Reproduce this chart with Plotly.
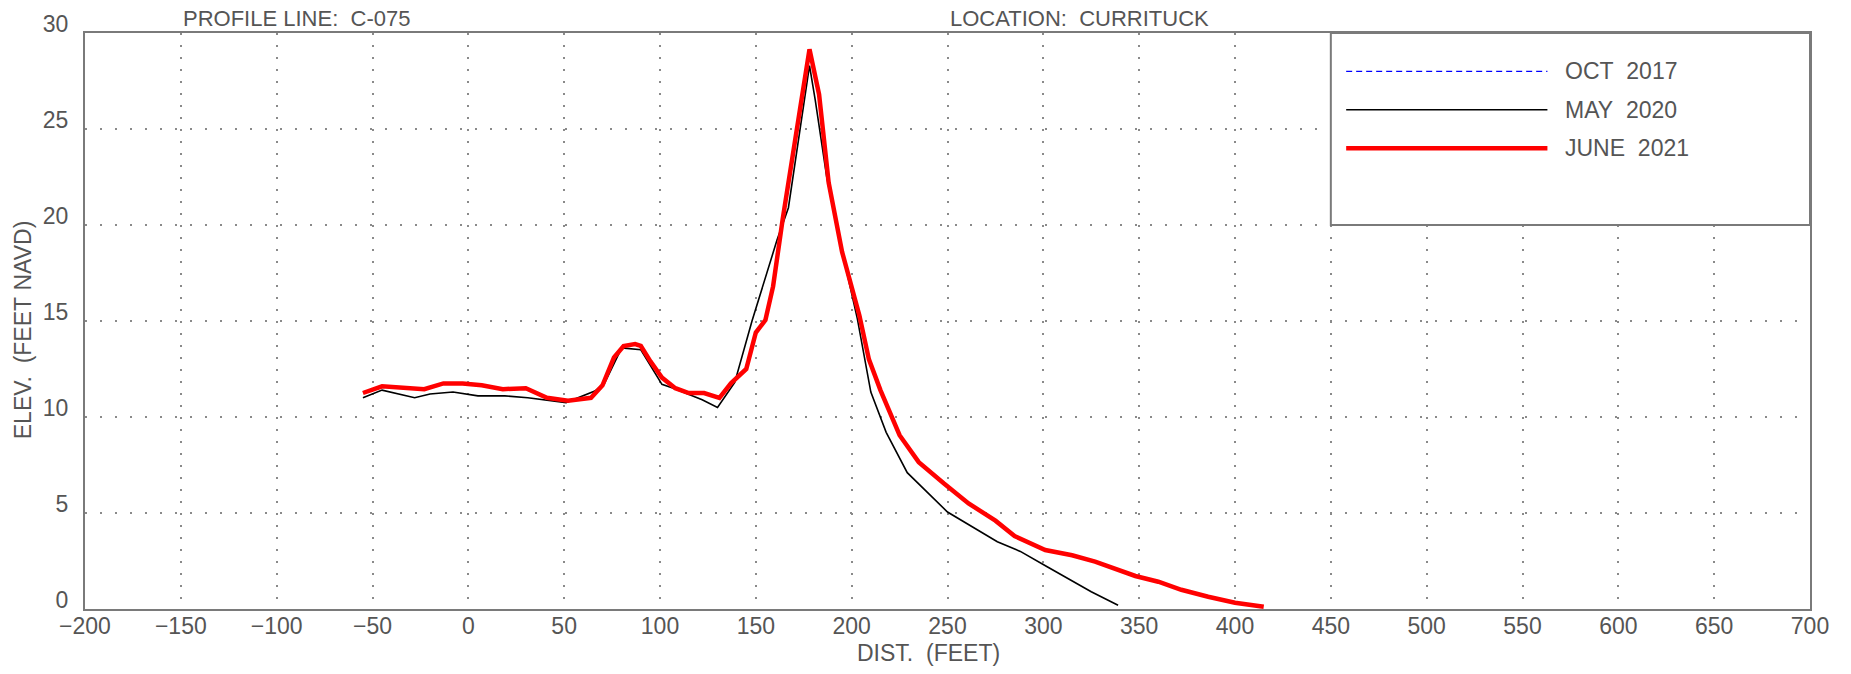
import plotly.graph_objects as go

# ---- data ----
may2020_x = [-55, -45, -28, -20, -8, 5, 19, 31, 51, 66, 71, 80, 90, 101, 107, 122, 130, 139, 148, 161, 167, 178,
             181, 187, 196, 203, 210, 218, 229, 250, 276, 288, 302, 325, 339]
may2020_y = [11.0, 11.4, 11.0, 11.2, 11.3, 11.1, 11.1, 11.0, 10.75, 11.35, 11.75, 13.6, 13.5, 11.7, 11.5, 10.9,
             10.5, 11.8, 15.0, 19.2, 20.9, 28.3, 26.5, 22.5, 18.2, 15.1, 11.3, 9.2, 7.1, 5.05, 3.5, 3.0, 2.2, 0.9, 0.2]

june2021_x = [-55, -45, -23, -13, -3, 7, 18, 30, 41, 52, 64, 70, 76, 81, 87, 90, 95, 101, 108, 115, 123, 131, 137,
              145, 150, 155, 159, 164, 173, 178, 183, 188, 195, 204, 209, 215, 225, 235, 248, 261, 275, 285, 301,
              315, 327, 348, 360, 372, 386, 400, 415]
june2021_y = [11.25, 11.6, 11.45, 11.75, 11.75, 11.65, 11.45, 11.5, 11.0, 10.85, 11.0, 11.65, 13.1, 13.7, 13.8,
              13.7, 12.9, 12.05, 11.5, 11.25, 11.25, 11.0, 11.75, 12.5, 14.4, 15.05, 16.8, 20.3, 26.0, 29.15, 26.8,
              22.2, 18.6, 15.3, 13.0, 11.4, 9.05, 7.65, 6.55, 5.5, 4.6, 3.8, 3.07, 2.8, 2.47, 1.72, 1.42, 1.0, 0.64,
              0.33, 0.12]

oct2017_x = []
oct2017_y = []

x_ticks = list(range(-200, 701, 50))
y_ticks = list(range(0, 31, 5))

series_names = ["OCT  2017", "MAY  2020", "JUNE  2021"]
series_colors = ["#0000ff", "#000000", "#ff0000"]
series_widths = [1.3, 1.6, 4.5]
series_dash = ["6px,4px", "solid", "solid"]

FONT = "Liberation Sans, Arial, sans-serif"
TXT = "#555555"
GRID = "#8a8a8a"

fig = go.Figure()
for (xs, ys), name, col, w, d in zip([(oct2017_x, oct2017_y), (may2020_x, may2020_y), (june2021_x, june2021_y)],
                                     series_names, series_colors, series_widths, series_dash):
    fig.add_trace(go.Scatter(x=xs, y=ys, mode="lines", name=name, showlegend=False,
                             line=dict(color=col, width=w, dash=d)))

# manual legend box (CAD style)
fig.add_shape(type="rect", xref="x", yref="y", x0=450, x1=700, y0=20, y1=30,
              line=dict(color="#7a7a7a", width=2), fillcolor="white", layer="above")
for i, (name, col, w, d) in enumerate(zip(series_names, series_colors, series_widths, series_dash)):
    yy = 28 - 2 * i
    fig.add_shape(type="line", xref="x", yref="y", x0=458, x1=563, y0=yy, y1=yy,
                  line=dict(color=col, width=w, dash=d), layer="above")
    fig.add_annotation(x=571, y=yy, xref="x", yref="y", text=name.replace(" ", "\u00a0"),
                       showarrow=False, xanchor="left", yanchor="middle",
                       font=dict(family=FONT, size=23, color=TXT))

fig.add_annotation(x=-150, y=1, xref="x", yref="paper", text="PROFILE\u00a0LINE:\u00a0\u00a0C-075",
                   showarrow=False, xanchor="left", yanchor="middle", yshift=15,
                   font=dict(family=FONT, size=22, color=TXT))
fig.add_annotation(x=250, y=1, xref="x", yref="paper", text="LOCATION:\u00a0\u00a0CURRITUCK",
                   showarrow=False, xanchor="left", yanchor="middle", yshift=15,
                   font=dict(family=FONT, size=22, color=TXT))

# axis titles
fig.add_annotation(x=0, y=0.484, xref="paper", yref="paper", text="ELEV.\u00a0\u00a0(FEET\u00a0NAVD)",
                   showarrow=False, xanchor="center", yanchor="middle", xshift=-62, textangle=-90,
                   font=dict(family=FONT, size=23, color=TXT))
fig.add_annotation(x=0.489, y=0, xref="paper", yref="paper", text="DIST.\u00a0\u00a0(FEET)",
                   showarrow=False, xanchor="center", yanchor="middle", yshift=-44,
                   font=dict(family=FONT, size=23, color=TXT))

fig.update_layout(
    width=1851, height=674,
    margin=dict(l=85, r=41, t=33, b=65, autoexpand=False),
    plot_bgcolor="white", paper_bgcolor="white",
    font=dict(family=FONT, size=23, color=TXT),
    showlegend=False,
)
fig.update_xaxes(range=[-200, 700], tickvals=x_ticks, ticks="", showline=True, mirror=True,
                 linecolor="#7a7a7a", linewidth=2, showgrid=True, gridcolor=GRID, gridwidth=2,
                 griddash="2px,10px", zeroline=False, automargin=False,
                 tickfont=dict(size=23), ticklabelstandoff=-5)
fig.update_yaxes(range=[0, 30], tickvals=y_ticks, ticks="", showline=True, mirror=True,
                 linecolor="#7a7a7a", linewidth=2, showgrid=True, gridcolor=GRID, gridwidth=2,
                 griddash="2px,13px", zeroline=False, automargin=False,
                 tickfont=dict(size=23), ticklabelshift=-9, ticklabelstandoff=10)

fig.write_html("out.html", config={"displayModeBar": False},
               post_script="document.body.style.margin='0';")
